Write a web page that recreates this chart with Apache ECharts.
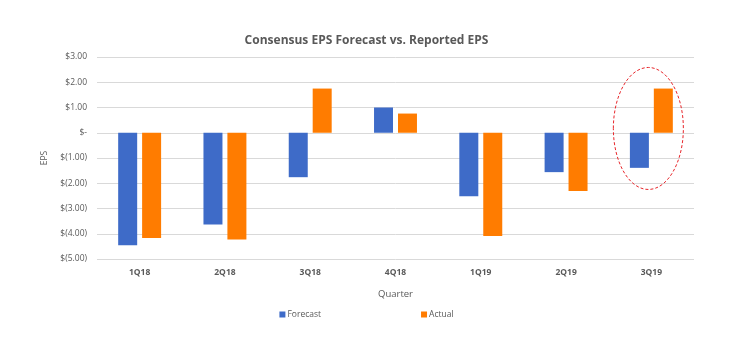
<!DOCTYPE html>
<html>
<head>
<meta charset="utf-8">
<script src="https://cdn.jsdelivr.net/npm/echarts@6/dist/echarts.min.js"></script>
<style>
html,body{margin:0;padding:0;background:#fff;}
#chart{width:733px;height:339px;}
</style>
</head>
<body>
<div id="chart"></div>
<script>
var categories = ['1Q18','2Q18','3Q18','4Q18','1Q19','2Q19','3Q19'];
var forecast = [-4.46, -3.63, -1.76, 1.00, -2.51, -1.56, -1.39];
var actual = [-4.17, -4.23, 1.75, 0.76, -4.09, -2.31, 1.75];
var yTicks = {min: -5, max: 3, interval: 1};
var highlightCategory = '3Q19';

var FONT = '"Open Sans", "Liberation Sans", sans-serif';
var chart = echarts.init(document.getElementById('chart'), null, {renderer: 'canvas'});

function fmt(v) {
  if (Math.abs(v) < 1e-9) return '$-';
  if (v < 0) return '$(' + Math.abs(v).toFixed(2) + ')';
  return '$' + v.toFixed(2);
}

var option = {
  backgroundColor: '#ffffff',
  animation: false,
  title: {
    text: 'Consensus EPS Forecast vs. Reported EPS',
    left: 'center',
    top: 30,
    textStyle: {fontFamily: FONT, fontSize: 12, fontWeight: 'bold', color: '#595959'}
  },
  legend: {
    data: ['Forecast', 'Actual'],
    top: 305,
    left: 'center',
    itemWidth: 6,
    itemHeight: 6,
    itemGap: 100,
    icon: 'rect',
    textStyle: {fontFamily: FONT, fontSize: 8.5, color: '#595959', padding: [0, 0, 0, -3]}
  },
  grid: {left: 97, right: 39, top: 57, bottom: 80, containLabel: false},
  xAxis: {
    type: 'category',
    data: categories,
    name: 'Quarter',
    nameLocation: 'middle',
    nameGap: 30,
    nameTextStyle: {fontFamily: FONT, fontSize: 9.5, color: '#595959'},
    axisLine: {show: false, onZero: false},
    axisTick: {show: false},
    axisLabel: {fontFamily: FONT, fontSize: 8.5, fontWeight: 'bold', color: '#595959', margin: 9}
  },
  yAxis: {
    type: 'value',
    min: yTicks.min,
    max: yTicks.max,
    interval: yTicks.interval,
    name: 'EPS',
    nameLocation: 'middle',
    nameGap: 44,
    nameRotate: 90,
    nameTextStyle: {fontFamily: FONT, fontSize: 8.5, color: '#595959'},
    axisLine: {show: false},
    axisTick: {show: false},
    splitLine: {lineStyle: {color: '#d9d9d9', width: 1}},
    axisLabel: {fontFamily: FONT, fontSize: 8.5, color: '#595959', margin: 10, formatter: fmt}
  },
  series: [
    {name: 'Forecast', type: 'bar', data: forecast, barWidth: 19, barGap: '26%',
     itemStyle: {color: '#3E6BC8'}},
    {name: 'Actual', type: 'bar', data: actual, barWidth: 19, barGap: '26%',
     itemStyle: {color: '#FF7C00'}}
  ]
};
chart.setOption(option);

// annotation ellipse around highlighted quarter
var c = chart.convertToPixel({xAxisIndex: 0, yAxisIndex: 0}, [highlightCategory, 0.17]);
chart.setOption({
  graphic: [{
    type: 'ellipse',
    shape: {cx: c[0] - 3, cy: c[1], rx: 35, ry: 61},
    style: {fill: 'none', stroke: '#e8262b', lineWidth: 1, lineDash: [3, 2]},
    z: 100
  }]
});
</script>
</body>
</html>
